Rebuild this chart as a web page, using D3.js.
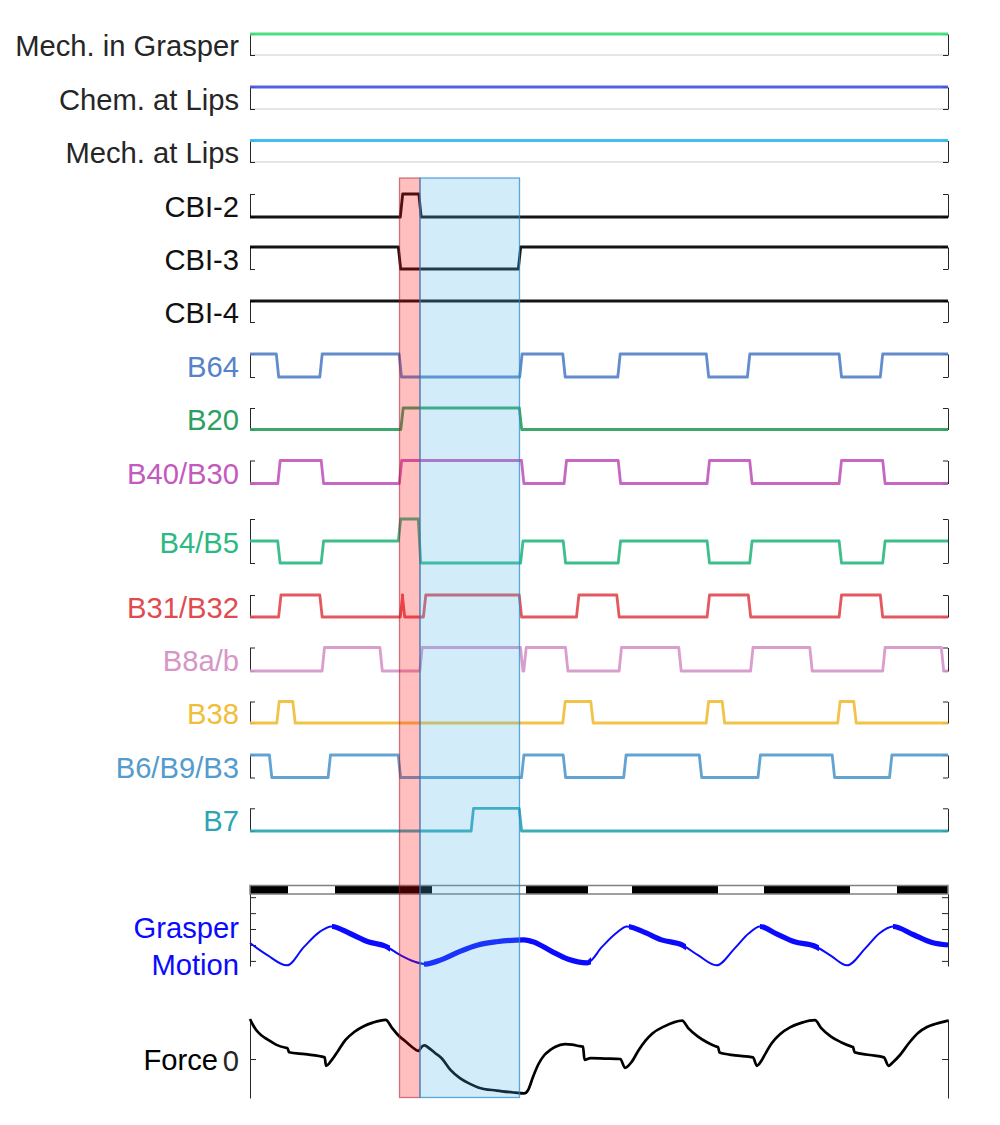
<!DOCTYPE html>
<html><head><meta charset="utf-8">
<script src="https://cdn.jsdelivr.net/npm/d3@7"></script>
<style>body{margin:0;background:#fff;} svg{display:block;font-family:"Liberation Sans",Arial,sans-serif;}</style>
</head><body><svg id="c" width="1000" height="1125"></svg>
<script>
// ---------- DATA (time units, 0..69.8) ----------
const T_END = 69.8;
const rowLabels = ["Mech. in Grasper","Chem. at Lips","Mech. at Lips","CBI-2","CBI-3","CBI-4","B64","B20","B40/B30","B4/B5","B31/B32","B8a/b","B38","B6/B9/B3","B7"];
// each series: [time, level from that time on]
const mechGrasper = [[0,1]];
const chemLips = [[0,1]];
const mechLips = [[0,1]];
const cbi2 = [[0,0],[15.15,1],[17.0,0]];
const cbi3 = [[0,1],[14.95,0],[26.95,1]];
const cbi4 = [[0,1]];
const b64 = [[0,1],[2.75,0],[7.1,1],[15.03,0],[27.09,1],[31.4,0],[36.9,1],[45.75,0],[49.86,1],[59.03,0],[63.15,1]];
const b20 = [[0,0],[15.2,1],[27.05,0]];
const b40 = [[0,0],[2.9,1],[7.24,0],[15.05,1],[27.27,0],[31.53,1],[36.94,0],[45.83,1],[50.09,0],[59.03,1],[63.39,0]];
const b4 = [[0,1],[2.89,0],[7.24,1],[14.95,2],[16.95,0],[27.18,1],[31.44,0],[36.94,1],[45.83,0],[50.09,1],[59.03,0],[63.39,1]];
const b31 = [[0,0],[2.98,1],[7.1,0],[15.15,1],[15.35,0],[17.46,1],[27.04,0],[32.77,1],[36.8,0],[45.83,1],[49.95,0],[59.03,1],[63.15,0]];
const b8 = [[0,0],[7.33,1],[13.11,0],[17.1,1],[27.17,0],[27.5,1],[31.67,0],[37.03,1],[43.0,0],[50.18,1],[56.1,0],[63.39,1],[69.25,0]];
const b38 = [[0,0],[2.8,1],[4.4,0],[31.4,1],[34.2,0],[45.74,1],[47.34,0],[58.89,1],[60.5,0]];
const b6 = [[0,1],[2.06,0],[7.93,1],[14.94,0],[27.27,1],[31.44,0],[37.49,1],[45.05,0],[50.92,1],[58.34,0],[64.07,1]];
const b7 = [[0,0],[22.23,1],[27.04,0]];

// behaviour bar: edges, alternating black / white starting black
const barEdges = [0,3.8,8.5,18.2,27.6,33.8,38.2,46.8,51.4,60.0,64.7,69.8];

// grasper motion [t, value]
const grasperT = [0,1.74,3.7,5.4,7.0,8.16,10.0,11.8,13.57,15.03,16.4,17.55,19.16,21.0,22.8,24.66,27.4,28.3,30.16,31.76,33.73,35.2,36.57,37.7,39.3,41.15,43.2,44.8,46.65,48.49,49.86,51.0,52.6,54.45,56.5,58.1,59.7,61.55,62.92,64.3,66.36,68.2,69.8];
const grasperV = [0.28,0.09,-0.07,0.22,0.46,0.54,0.43,0.30,0.23,0.09,-0.01,-0.05,0.02,0.15,0.25,0.30,0.33,0.30,0.15,0.03,-0.03,0.22,0.43,0.54,0.46,0.33,0.25,0.09,-0.07,0.20,0.43,0.54,0.43,0.30,0.23,0.08,-0.07,0.20,0.43,0.54,0.41,0.29,0.25];
const grasperThick = [[8.2,13.6],[17.4,33.7],[37.9,43.2],[51.0,56.5],[64.3,69.8]];

// force [t, value]
const forceT = [0,0.3,0.6,1.2,1.74,2.6,3.57,3.75,3.9,5.5,7.47,7.6,8.16,8.85,9.53,10.45,11.37,12.28,13.57,14.2,14.8,15.5,16.2,16.86,17.15,17.45,17.75,18.5,19.16,20.07,20.99,21.9,22.82,24.66,26.49,27.4,27.8,28.3,28.8,29.44,30.0,30.5,31.5,32.2,33.0,33.3,33.45,34.05,35.5,37.03,37.5,38.17,38.86,39.55,40.24,41.38,43.22,43.8,44.8,45.7,46.66,46.8,46.95,48.5,50.3,50.69,51.1,51.6,52.15,53.0,54.0,55.2,56.5,57.1,58.1,59.1,60.17,60.3,60.45,62.0,63.39,63.85,64.3,65.0,65.9,66.8,67.7,68.6,69.8];
const forceV = [1.0,0.85,0.73,0.58,0.49,0.36,0.28,0.27,0.17,0.12,0.04,-0.17,-0.03,0.22,0.47,0.68,0.82,0.91,0.98,0.78,0.6,0.45,0.3,0.2,0.3,0.34,0.3,0.15,0.02,-0.28,-0.48,-0.61,-0.71,-0.79,-0.84,-0.86,-0.78,-0.45,-0.15,0.1,0.22,0.3,0.37,0.36,0.32,0.31,-0.02,0.02,0.01,0.0,-0.22,-0.07,0.22,0.46,0.64,0.81,0.96,0.78,0.56,0.42,0.31,0.3,0.16,0.09,0.04,-0.17,-0.06,0.16,0.39,0.62,0.79,0.91,0.97,0.78,0.56,0.42,0.31,0.3,0.17,0.1,0.04,-0.17,-0.08,0.1,0.4,0.65,0.8,0.88,0.96];
const forceTicks = [0];

// highlighted windows
const bandRed = [14.95,17.0];
const bandBlue = [17.0,26.95];

// ---------- DRAW ----------
const svg = d3.select("#c");
const x = d3.scaleLinear().domain([0, T_END]).range([250, 948]);
const FONT = 29.2;
const AX = "#262626";
const R = 0.12;

function stepPoints(series){
  const pts=[];
  series.forEach(([t,v],i)=>{
    if(i===0){pts.push([t,v]);return;}
    const prev=series[i-1][1];
    pts.push([t-R,prev]); pts.push([t+R,v]);
  });
  pts.push([T_END, series[series.length-1][1]]);
  return pts;
}

const rowData = [mechGrasper,chemLips,mechLips,cbi2,cbi3,cbi4,b64,b20,b40,b4,b31,b8,b38,b6,b7];
const rowColors = ["#3ddc7a","#4455dd","#33bbee","#000","#000","#000","#5582c8","#2da05f","#c35abe","#2db982","#e14b50","#d796c8","#f0be3c","#559bcd","#2da5b4"];
const textColors = ["#262626","#262626","#262626","#111","#111","#111","#5582c8","#2da05f","#c35abe","#2db982","#e14b50","#d796c8","#f0be3c","#559bcd","#2da5b4"];
const tops =    [34,87,140.5,194,247,301,354,408,460.5,519,595,647.5,701.5,755,808.3];
const bottoms = [55,109,162,217,269,322,377,429.5,483.5,563,617,671,723,777.5,831];

rowLabels.forEach((lab,i)=>{
  const maxV = d3.max(rowData[i], d=>d[1]) > 1 ? 2 : 1;
  const y = d3.scaleLinear().domain([0,maxV]).range([bottoms[i], tops[i]]);
  const g = svg.append("g");
  if (i<3) g.append("line").attr("x1",250).attr("x2",948).attr("y1",bottoms[i]).attr("y2",bottoms[i]).attr("stroke","#dcdcdc").attr("stroke-width",1.5);
  g.append("g").attr("transform","translate(250,0)").attr("color",AX)
    .call(d3.axisRight(y).tickValues([0,maxV]).tickSize(5).tickSizeOuter(0).tickFormat(""));
  g.append("g").attr("transform","translate(948,0)").attr("color",AX)
    .call(d3.axisLeft(y).tickValues([0,maxV]).tickSize(5).tickSizeOuter(0).tickFormat(""));
  g.append("path").datum(stepPoints(rowData[i]))
    .attr("d", d3.line().x(d=>x(d[0])).y(d=>y(d[1])))
    .attr("fill","none").attr("stroke",rowColors[i]).attr("stroke-width", i<3?3.2:2.8)
    .attr("stroke-linejoin","round").attr("stroke-opacity",0.92);
  svg.append("text").attr("x",239).attr("y",(tops[i]+bottoms[i])/2+11.5)
    .attr("text-anchor","end").attr("fill",textColors[i]).style("font-size",FONT+"px").text(lab);
});

// behaviour bar
const barG = svg.append("g");
for (let i=0;i<barEdges.length-1;i++){
  barG.append("rect").attr("x",x(barEdges[i])).attr("y",885.5).attr("width",x(barEdges[i+1])-x(barEdges[i])).attr("height",8.5)
    .attr("fill", i%2===0 ? "#000" : "#fff");
}
barG.append("rect").attr("x",x(0)).attr("y",885.5).attr("width",x(T_END)-x(0)).attr("height",8.5)
  .attr("fill","none").attr("stroke","#808080").attr("stroke-width",1.5);

// grasper
const gy = d3.scaleLinear().domain([-0.08,1.05]).range([966,894]);
svg.append("g").attr("transform","translate(250,0)").attr("color",AX)
  .call(d3.axisRight(gy).tickValues([0,0.25,0.5,0.75,1]).tickSize(6).tickSizeOuter(0).tickFormat(""));
svg.append("g").attr("transform","translate(948,0)").attr("color",AX)
  .call(d3.axisLeft(gy).tickValues([0,0.25,0.5,0.75,1]).tickSize(6).tickSizeOuter(0).tickFormat(""));
const gPts = grasperT.map((t,i)=>[t,grasperV[i]]);
const gLine = d3.line().x(d=>x(d[0])).y(d=>gy(d[1])).curve(d3.curveMonotoneX);
const BLUE = "#0a0aff";
svg.append("path").datum(gPts).attr("d",gLine).attr("fill","none").attr("stroke",BLUE).attr("stroke-width",2);
const defs = svg.append("defs");
grasperThick.forEach((iv,k)=>{
  defs.append("clipPath").attr("id","thk"+k).append("rect")
    .attr("x",x(iv[0])).attr("width",x(iv[1])-x(iv[0])+4).attr("y",880).attr("height",100);
  svg.append("path").datum(gPts).attr("d",gLine).attr("fill","none").attr("stroke",BLUE)
    .attr("stroke-width",5.2).attr("clip-path","url(#thk"+k+")");
});
svg.append("text").attr("x",239).attr("y",938).attr("text-anchor","end").attr("fill",BLUE).style("font-size",FONT+"px").text("Grasper");
svg.append("text").attr("x",239).attr("y",975).attr("text-anchor","end").attr("fill",BLUE).style("font-size",FONT+"px").text("Motion");

// force
const fy = d3.scaleLinear().domain([-0.975,1]).range([1098,1019]);
const fAxL = svg.append("g").attr("transform","translate(250,0)").attr("color",AX)
  .call(d3.axisLeft(fy).tickValues(forceTicks).tickFormat(d3.format("d")).tickSizeInner(-6).tickSizeOuter(0).tickPadding(11));
fAxL.selectAll("text").style("font-size",FONT+"px").attr("dy","0.38em").attr("fill","#262626")
  .style("font-family",'"Liberation Sans",Arial,sans-serif');
svg.append("g").attr("transform","translate(948,0)").attr("color",AX)
  .call(d3.axisLeft(fy).tickValues(forceTicks).tickSize(6).tickSizeOuter(0).tickFormat(""));
const fPts = forceT.map((t,i)=>[t,forceV[i]]);
svg.append("path").datum(fPts)
  .attr("d", d3.line().x(d=>x(d[0])).y(d=>fy(d[1])).curve(d3.curveMonotoneX))
  .attr("fill","none").attr("stroke","#000").attr("stroke-width",2.7).attr("stroke-linejoin","round");
svg.append("text").attr("x",218).attr("y",1070).attr("text-anchor","end").attr("fill","#000").style("font-size",FONT+"px").text("Force");

// bands on top
svg.append("rect").attr("x",x(bandRed[0])).attr("y",178).attr("width",x(bandRed[1])-x(bandRed[0])).attr("height",919.5)
  .attr("fill","rgba(255,0,0,0.25)").attr("stroke","rgba(170,20,40,0.55)").attr("stroke-width",1.3);
svg.append("rect").attr("x",x(bandBlue[0])).attr("y",178).attr("width",x(bandBlue[1])-x(bandBlue[0])).attr("height",919.5)
  .attr("fill","rgba(77,179,230,0.25)").attr("stroke","rgba(40,140,205,0.75)").attr("stroke-width",1.3);
</script></body></html>
